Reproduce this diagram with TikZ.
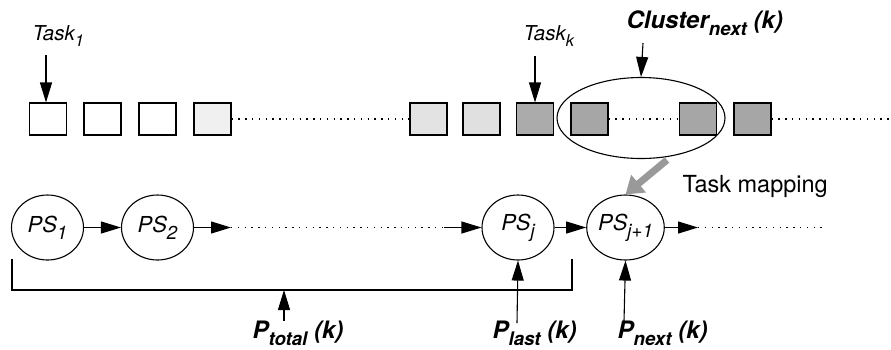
\documentclass[tikz,border=0pt]{standalone}
\usepackage{fontspec}
\setmainfont{TeX Gyre Heros}
\usetikzlibrary{arrows.meta,shapes.geometric}
\newcommand\lsub[2][0.78]{\raisebox{-0.33em}{\scalebox{#1}{#2}}}
\begin{document}
\begin{tikzpicture}[x=1pt,y=-1pt,
  line width=1.1pt,
  arr/.style={-{Triangle[length=20pt,width=12pt]}},
  dotline/.style={line width=1.2pt,dash pattern=on 1.4pt off 5.4pt},
  sq/.style={draw,rectangle,minimum width=37pt,minimum height=32pt,inner sep=0pt},
  ps/.style={draw,ellipse,minimum width=72pt,minimum height=65pt,inner sep=0pt,font=\fontsize{22}{26}\selectfont\itshape},
  lab/.style={inner sep=0pt,font=\fontsize{20.5}{24}\selectfont\itshape},
  blab/.style={inner sep=0pt,font=\fontsize{24}{28}\selectfont\bfseries\itshape}]
\useasboundingbox (0,0) rectangle (891,349);
% tasks
\node[sq] (t1) at (48,119) {};
\node[sq] (t2) at (102.5,119) {};
\node[sq] (t3) at (157.5,119) {};
\node[sq,fill=black!6] (t4) at (212.5,119) {};
\node[sq,fill=black!11] (t5) at (428.5,119) {};
\node[sq,fill=black!12] (t6) at (481.5,119) {};
\node[sq,fill=black!33] (t7) at (535,119) {};
\node[sq,fill=black!35] (t8) at (589.5,119) {};
\node[sq,fill=black!35] (t9) at (698,119) {};
\node[sq,fill=black!35] (t10) at (752.5,119) {};
\coordinate (tend) at (890,119);
\draw[dotline] (t4.east) -- (t5.west);
\draw[dotline] (t8.east) -- (t9.west);
\draw[dotline] (t10.east) -- (tend);
% cluster ellipse
\node[draw,ellipse,minimum width=168pt,minimum height=81pt,inner sep=0pt] (cl) at (641,118) {};
% labels above
\node[lab,anchor=base west] (l1) at (32,40) {Task\lsub[0.8]{1}};
\node[lab,anchor=base west] (lk) at (523,40) {Task\lsub[0.8]{k}};
\node[blab,anchor=base west] (lc) at (626,28) {Cluster\lsub{next} (k)};
\coordinate (a1) at (46,55);
\coordinate (ak) at (535,56);
\coordinate (ac) at (643,43);
\draw[arr] (a1) -- (a1 |- t1.north);
\draw[arr] (ak) -- (ak |- t7.north);
\draw[arr] (ac) -- (cl.north);
% processors
\node[ps] (ps1) at (47.5,227.5) {PS\lsub[0.85]{1}};
\node[ps] (ps2) at (157.5,227.5) {PS\lsub[0.85]{2}};
\node[ps] (psj) at (518,227.5) {PS\lsub[0.85]{j}};
\node[ps] (psj1) at (625.5,227.5) {PS\lsub[0.85]{j+1}};
\coordinate (d1) at (231,227.5);
\coordinate (d2) at (444,227.5);
\coordinate (d3) at (698,227.5);
\coordinate (d4) at (827,227.5);
\draw[arr] (ps1) -- (ps2);
\draw[arr] (ps2) -- (d1);
\draw[dotline] (d1) -- (d2);
\draw[arr] (d2) -- (psj);
\draw[arr] (psj) -- (psj1);
\draw[arr] (psj1) -- (d3);
\draw[dotline] (d3) -- (d4);
% task mapping
\coordinate (gm) at (667,160);
\draw[line width=7pt,black!40,-{Triangle[length=17pt,width=22pt]}] (gm) -- (psj1.north);
\node[inner sep=0pt,anchor=base west,font=\fontsize{23.5}{27}\selectfont] (tm) at (682,192) {Task mapping};
% bracket
\coordinate (b1) at (12,259);
\coordinate (b2) at (12,290);
\coordinate (b3) at (572,290);
\coordinate (b4) at (572,259);
\draw (b1) -- (b2) -- (b3) -- (b4);
% bottom labels
\node[blab,anchor=base west] (pt) at (252,338) {P\lsub{total} (k)};
\node[blab,anchor=base west] (pl) at (492,338) {P\lsub{last} (k)};
\node[blab,anchor=base west] (pn) at (617,338) {P\lsub{next} (k)};
\coordinate (ptb) at (284,321);
\coordinate (plb) at (517,323);
\coordinate (pnb) at (624,321);
\draw[arr] (ptb) -- (ptb |- b2);
\draw[arr] (plb) -- (psj.south);
\draw[arr] (pnb) -- (psj1.south);
\end{tikzpicture}
\end{document}
